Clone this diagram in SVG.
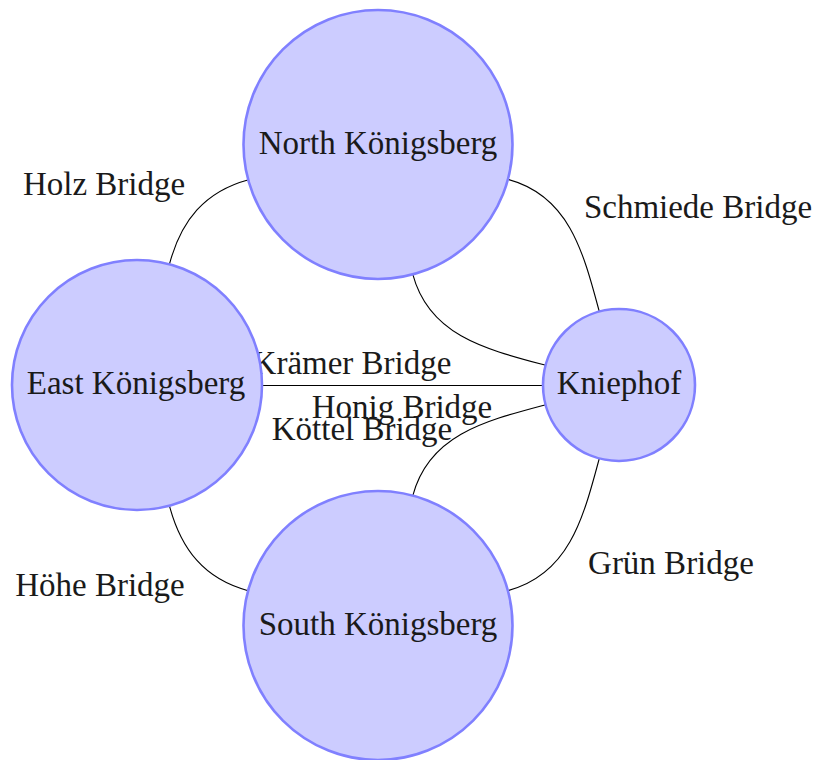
<svg xmlns="http://www.w3.org/2000/svg" width="816" height="760" viewBox="0 0 816 760">
<style>
.node{fill:#ccccff;stroke:#8080ff;stroke-width:2.6}
.edge{fill:none;stroke:#000;stroke-width:1.1}
text{font-family:"Liberation Serif","Times New Roman",serif;font-size:33px;fill:#1a1a1a;text-anchor:middle}
</style>
<rect width="816" height="760" fill="#fff"/>
<g id="connectors">
<path id="holz" class="edge" d="M169.4,264.3 C181.2,220.4 204.7,191.5 248.6,179.7"/>
<path id="schmiede" class="edge" d="M507.9,179.3 C568.7,195.6 583,250.8 599.3,311.6"/>
<path id="kraemer" class="edge" d="M412.8,274.4 C429.1,335.3 484.7,349 545.6,365.3"/>
<path id="honig" class="edge" d="M262,385.5 L543,385.5"/>
<path id="koettel" class="edge" d="M412.8,495.6 C429.1,434.7 484.7,421 545.6,404.7"/>
<path id="gruen" class="edge" d="M507.9,590.7 C568.7,574.4 583,519.2 599.3,458.4"/>
<path id="hoehe" class="edge" d="M169.4,505.7 C181.1,549.5 204.3,579 248.1,590.7"/>
</g>
<g id="labels">
<text x="104" y="195">Holz Bridge</text>
<text x="698" y="218">Schmiede Bridge</text>
<text x="352" y="374">Krämer Bridge</text>
<text x="402" y="418">Honig Bridge</text>
<text x="362" y="440">Köttel Bridge</text>
<text x="671" y="574">Grün Bridge</text>
<text x="100" y="596">Höhe Bridge</text>
</g>
<g id="north">
<circle class="node" cx="378" cy="144.5" r="134.5"/>
<text x="378" y="154">North Königsberg</text>
</g>
<g id="east">
<circle class="node" cx="137" cy="385" r="125"/>
<text x="136" y="394">East Königsberg</text>
</g>
<g id="kniephof">
<circle class="node" cx="619" cy="385" r="76"/>
<text x="619" y="394">Kniephof</text>
</g>
<g id="south">
<circle class="node" cx="378" cy="625.5" r="134.5"/>
<text x="378" y="635">South Königsberg</text>
</g>
</svg>
